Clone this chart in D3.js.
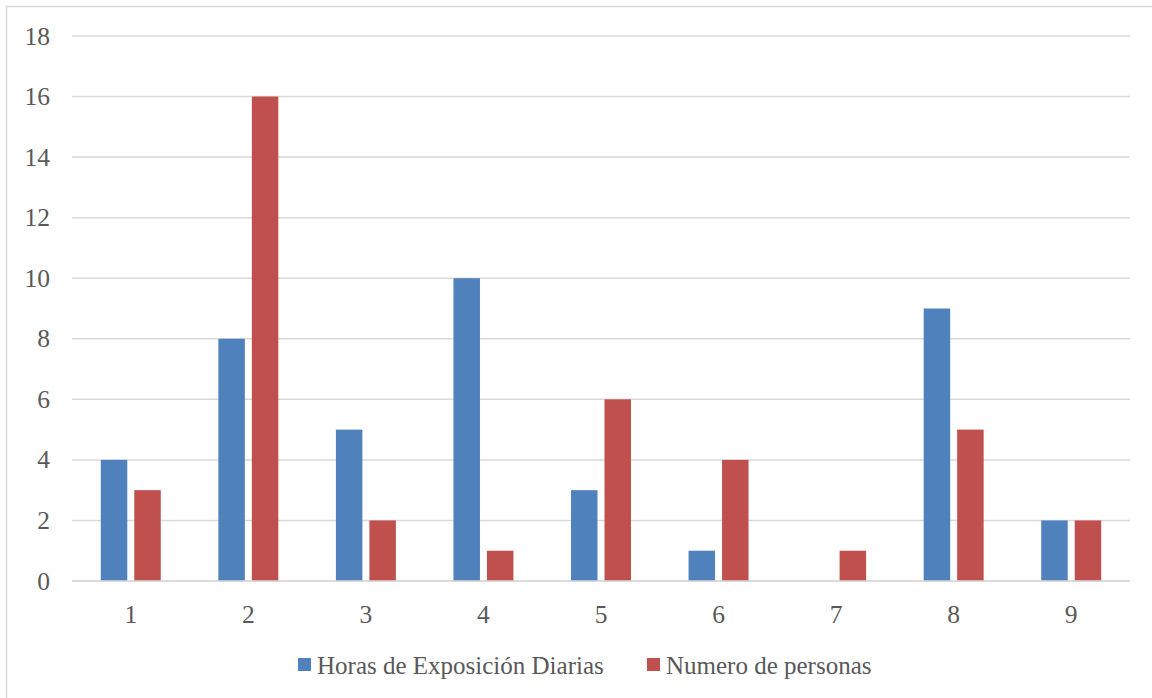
<!DOCTYPE html>
<html>
<head>
<meta charset="utf-8">
<script src="https://cdn.jsdelivr.net/npm/d3@7"></script>
<style>
  html, body { margin: 0; padding: 0; background: #ffffff; overflow: hidden; }
  svg { display: block; }
  text { font-family: "Liberation Serif", "DejaVu Serif", serif; fill: #595959; }
</style>
</head>
<body>
<script>
// Category labels along the x axis
const categories = ["1", "2", "3", "4", "5", "6", "7", "8", "9"];
// Series names (legend order)
const seriesNames = ["Horas de Exposición Diarias", "Numero de personas"];
// Series values per category
const horasValues = [4, 8, 5, 10, 3, 1, 0, 9, 2];
const personasValues = [3, 16, 2, 1, 6, 4, 1, 5, 2];
// Y axis ticks
const yTicks = [0, 2, 4, 6, 8, 10, 12, 14, 16, 18];
const seriesColors = ["#4F81BD", "#C0504D"];

const W = 1152, H = 698;
const plot = { left: 72, right: 1130, top: 36, bottom: 581 };

const svg = d3.select("body").append("svg")
  .attr("width", W).attr("height", H);

// Outer chart frame (extends past the right and bottom edges)
svg.append("rect")
  .attr("x", 6.5).attr("y", 6.5)
  .attr("width", W + 20).attr("height", H + 20)
  .attr("fill", "#ffffff")
  .attr("stroke", "#D9D9D9").attr("stroke-width", 1.5);

const y = d3.scaleLinear().domain([0, 18]).range([plot.bottom, plot.top]);
const x0 = d3.scaleBand().domain(categories).range([plot.left, plot.right]).padding(0);
const x1 = d3.scaleBand().domain(seriesNames).range([0, x0.step()])
  .paddingInner(0.209).paddingOuter(0.86);

// Horizontal gridlines
svg.append("g").selectAll("line").data(yTicks).join("line")
  .attr("x1", plot.left).attr("x2", plot.right)
  .attr("y1", d => y(d)).attr("y2", d => y(d))
  .attr("stroke", "#D9D9D9").attr("stroke-width", 1.5);

// Y tick labels
svg.append("g").selectAll("text").data(yTicks).join("text")
  .attr("x", 50).attr("y", d => y(d))
  .attr("text-anchor", "end").attr("dominant-baseline", "central")
  .attr("font-size", 25.5)
  .text(d => d);

// Bars
const rows = categories.map((c, i) => ({ cat: c, vals: [horasValues[i], personasValues[i]] }));
const groups = svg.append("g").selectAll("g").data(rows).join("g")
  .attr("transform", d => `translate(${x0(d.cat)},0)`);
groups.selectAll("rect")
  .data(d => d.vals.map((v, k) => ({ name: seriesNames[k], v, k })))
  .join("rect")
  .attr("x", d => x1(d.name))
  .attr("width", x1.bandwidth())
  .attr("y", d => y(d.v))
  .attr("height", d => y(0) - y(d.v))
  .attr("fill", d => seriesColors[d.k]);

// Baseline drawn over bar bottoms
svg.append("line")
  .attr("x1", plot.left).attr("x2", plot.right)
  .attr("y1", y(0)).attr("y2", y(0))
  .attr("stroke", "#D9D9D9").attr("stroke-width", 1.5);

// X category labels
svg.append("g").selectAll("text").data(categories).join("text")
  .attr("x", d => x0(d) + x0.bandwidth() / 2)
  .attr("y", 614)
  .attr("text-anchor", "middle").attr("dominant-baseline", "central")
  .attr("font-size", 25.5)
  .text(d => d);

// Legend
const legendX = [298, 647];
const legend = svg.append("g").selectAll("g").data(seriesNames).join("g")
  .attr("transform", (d, i) => `translate(${legendX[i]},658)`);
legend.append("rect")
  .attr("width", 13).attr("height", 13)
  .attr("fill", (d, i) => seriesColors[i]);
legend.append("text")
  .attr("x", 19).attr("y", 7)
  .attr("dominant-baseline", "central")
  .attr("font-size", 25)
  .text(d => d);
</script>
</body>
</html>
